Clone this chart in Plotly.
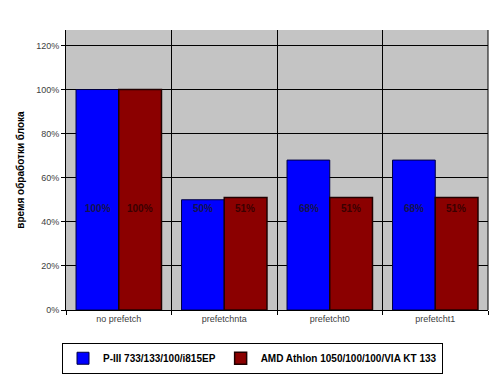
import plotly.graph_objects as go

categories = ["no prefetch", "prefetchnta", "prefetcht0", "prefetcht1"]
p3_values = [100, 50, 68, 68]
amd_values = [100, 51, 51, 51]
p3_labels = ["100%", "50%", "68%", "68%"]
amd_labels = ["100%", "51%", "51%", "51%"]
series_names = ["P-III 733/133/100/i815EP", "AMD Athlon 1050/100/100/VIA KT 133"]
y_ticks = [0, 20, 40, 60, 80, 100, 120]
y_tick_text = ["0%", "20%", "40%", "60%", "80%", "100%", "120%"]

FONT = "Liberation Sans, Arial, sans-serif"

fig = go.Figure()
fig.add_trace(go.Bar(
    x=categories, y=p3_values, name=series_names[0],
    marker=dict(color="#0000ff", line=dict(color="#000040", width=1)),
))
fig.add_trace(go.Bar(
    x=categories, y=amd_values, name=series_names[1],
    marker=dict(color="#8b0000", line=dict(color="#200000", width=1.5)),
))

label_y = 46
for i, cat in enumerate(categories):
    fig.add_annotation(x=cat, y=label_y, text=p3_labels[i], showarrow=False,
                       xshift=-21, font=dict(family=FONT, size=10, color="#141450", weight="bold"))
    fig.add_annotation(x=cat, y=label_y, text=amd_labels[i], showarrow=False,
                       xshift=21, font=dict(family=FONT, size=10, color="#3a0000", weight="bold"))

fig.update_layout(
    width=500, height=375,
    margin=dict(l=66, r=12, t=30, b=65, autoexpand=False),
    paper_bgcolor="white",
    plot_bgcolor="#c4c4c4",
    barmode="group", bargap=0.19, bargroupgap=0,
    font=dict(family=FONT, size=9, color="#404040"),
    showlegend=True,
    legend=dict(
        orientation="h", xref="container", yref="container",
        x=0.124, y=0.086, xanchor="left", yanchor="top",
        bordercolor="#000000", borderwidth=1, bgcolor="white",
        font=dict(family=FONT, size=10, color="#000000", weight="bold"),
        itemwidth=30, tracegroupgap=0,
    ),
    xaxis=dict(
        tickson="boundaries", showgrid=True, gridcolor="#000000", gridwidth=1,
        ticks="outside", ticklen=4, tickcolor="#000000",
        showline=True, linecolor="#000000", mirror=False,
        tickfont=dict(family=FONT, size=9, color="#404040"),
    ),
    yaxis=dict(
        range=[0, 127], tickvals=y_ticks, ticktext=y_tick_text,
        showgrid=True, gridcolor="#000000", gridwidth=1,
        ticks="outside", ticklen=4, tickcolor="#000000",
        showline=True, linecolor="#000000", zeroline=False,
        tickfont=dict(family=FONT, size=9, color="#404040"),
        title=dict(text="время обработки блока", standoff=9,
                   font=dict(family=FONT, size=10, color="#000000", weight="bold")),
    ),
)
fig.add_shape(type="line", xref="paper", yref="paper", x0=1, x1=1, y0=0, y1=1,
              line=dict(color="#000000", width=1))

fig.write_html("out.html")
